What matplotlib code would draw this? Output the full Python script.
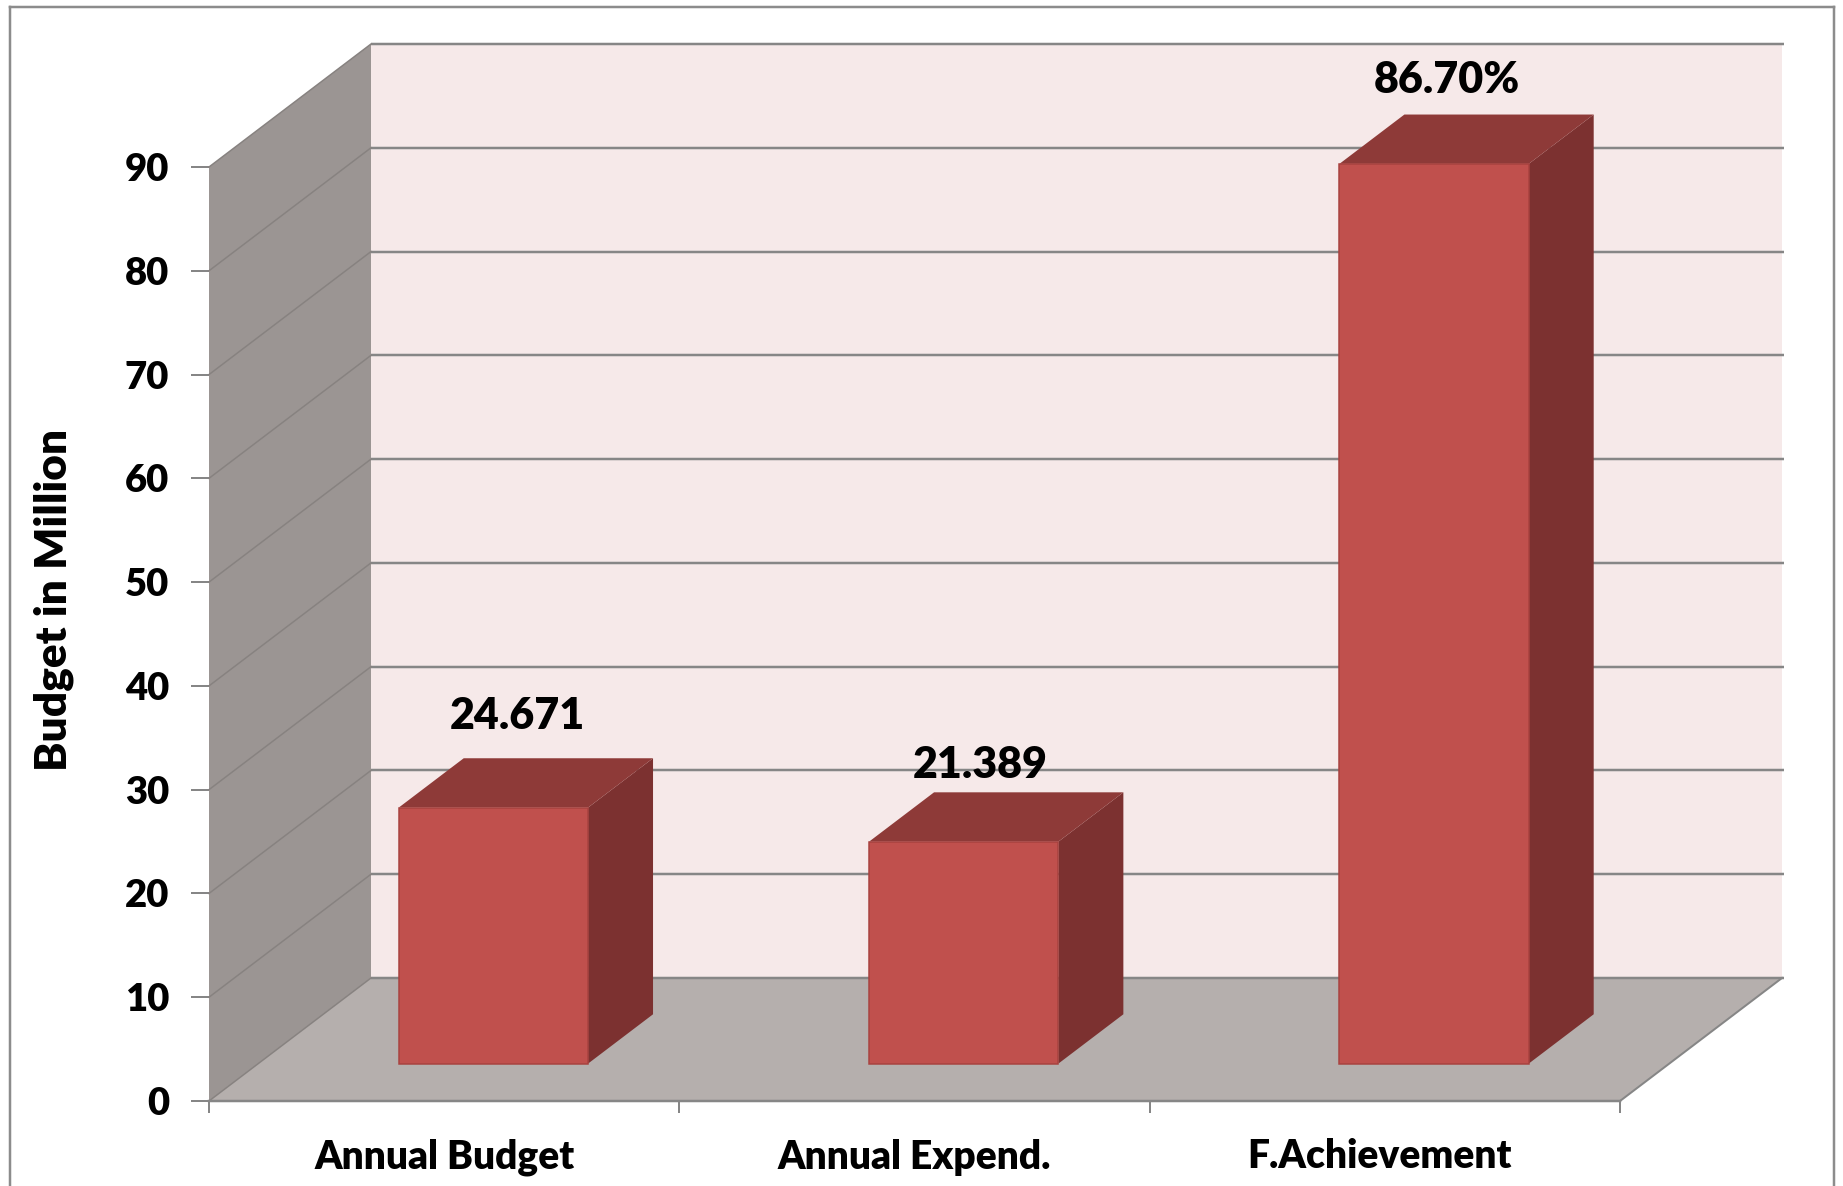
import matplotlib
matplotlib.use("Agg")
import matplotlib.pyplot as plt
from matplotlib.lines import Line2D
from matplotlib.patches import Polygon
from matplotlib.transforms import ScaledTranslation

categories = ["Annual Budget", "Annual Expend.", "F.Achievement"]
values = [24.671, 21.389, 86.7]
value_labels = ["24.671", "21.389", "86.70%"]
y_ticks = [0, 10, 20, 30, 40, 50, 60, 70, 80, 90]
y_title = "Budget in Million"

W, H = 1843, 1186
DPI = 100
PX = 72 / DPI
X0, X1, Y0, Y1 = 209.0, 1620.0, 1101.0, 167.0   # front plane in pixels
DEPTH_X = 162.0 / (X1 - X0) * 3        # depth shift in category units
DEPTH_Y = 123.0 / (Y0 - Y1) * 90       # depth shift in value units
BAR_W = 0.4025
BAR_D0, BAR_D1 = 0.304, 0.705
LABEL_OFFSETS = [(-41, 42), (-49, 27), (-52, 35)]  # px from bar's back top edge centre
CAT_SHIFT = [0, 0, -5]

C_LINE = "#868686"
C_WALL = "#F6E9E9"
C_SIDE = "#9B9593"
C_FLOOR = "#B5AFAD"
C_FRONT = "#C0504D"
C_RIGHT = "#7C3130"
C_TOP = "#8E3A38"

plt.rcParams["font.family"] = ["Lato", "DejaVu Sans"]
plt.rcParams["font.weight"] = "heavy"

fig = plt.figure(figsize=(W / DPI, H / DPI), dpi=DPI, facecolor="white")
ax = fig.add_axes([X0 / W, (H - Y0) / H, (X1 - X0) / W, (Y0 - Y1) / H])
ax.set_xlim(0, 3)
ax.set_ylim(0, 90)
ax.patch.set_visible(False)
for s in ("left", "top", "right"):
    ax.spines[s].set_visible(False)
ax.spines["bottom"].set_color(C_LINE)
ax.spines["bottom"].set_linewidth(2.5 * PX)
ax.spines["bottom"].set_zorder(6)


def P(x, y, d):
    """Oblique projection of (category position, value, depth 0..1)."""
    return (x + d * DEPTH_X, y + d * DEPTH_Y)


def poly(points, color, z, edge="none", lw=0):
    ax.add_patch(Polygon(points, closed=True, facecolor=color, edgecolor=edge,
                         linewidth=lw, zorder=z, clip_on=False))


top = y_ticks[-1]
# walls and floor
poly([P(0, 0, 1), P(3, 0, 1), P(3, top, 1), P(0, top, 1)], C_WALL, 1)
poly([P(0, 0, 0), P(0, 0, 1), P(0, top, 1), P(0, top, 0)], C_SIDE, 1)
poly([P(0, 0, 0), P(3, 0, 0), P(3, 0, 1), P(0, 0, 1)], C_FLOOR, 1)

# gridlines
for v in y_ticks:
    xs, ys = zip(P(0, v, 1), P(3.005, v, 1))
    ax.plot(xs, ys, color=C_LINE, lw=2.5 * PX, zorder=2, clip_on=False,
            solid_capstyle="butt")
    xs, ys = zip(P(0, v, 0), P(0, v, 1))
    ax.plot(xs, ys, color="#878280", lw=1.5 * PX, zorder=2, clip_on=False)
xs, ys = zip(P(3, 0, 0), P(3, 0, 1))
ax.plot(xs, ys, color=C_LINE, lw=2 * PX, zorder=2, clip_on=False)

# bars
for i, v in enumerate(values):
    c = i + 0.5
    l, r = c - BAR_W / 2, c + BAR_W / 2
    poly([P(r, 0, BAR_D0), P(r, 0, BAR_D1), P(r, v, BAR_D1), P(r, v, BAR_D0)], C_RIGHT, 3)
    poly([P(l, v, BAR_D0), P(r, v, BAR_D0), P(r, v, BAR_D1), P(l, v, BAR_D1)], C_TOP, 3)
    poly([P(l, 0, BAR_D0), P(r, 0, BAR_D0), P(r, v, BAR_D0), P(l, v, BAR_D0)], C_FRONT, 4,
         edge="#A8423F", lw=1.5 * PX)
    ox, oy = LABEL_OFFSETS[i]
    ax.annotate(value_labels[i], xy=P(c, v, BAR_D1), xytext=(ox * PX, oy * PX),
                textcoords="offset points", ha="center", va="center",
                fontsize=31, fontweight="heavy", color="black", zorder=7,
                annotation_clip=False)

# ticks and labels
ax.set_yticks(y_ticks)
ax.set_yticklabels([str(t) for t in y_ticks])
ax.tick_params(axis="y", length=18 * PX, width=2 * PX, color=C_LINE, pad=22 * PX,
               labelsize=27.5, labelcolor="black")
ax.set_xticks([0, 1, 2, 3])
ax.set_xticklabels([])
ax.tick_params(axis="x", which="major", length=12 * PX, width=2 * PX, color=C_LINE)
ax.set_xticks([0.5, 1.5, 2.5], minor=True)
ax.set_xticklabels(categories, minor=True)
ax.tick_params(axis="x", which="minor", length=0, pad=37.5 * PX, labelsize=28, labelcolor="black")
for lab, sh in zip(ax.get_xticklabels(minor=True), CAT_SHIFT):
    lab.set_transform(lab.get_transform() + ScaledTranslation(sh / DPI, 0, fig.dpi_scale_trans))

ax.set_ylabel(y_title, fontsize=31.8, fontweight="heavy", color="black")
ax.yaxis.set_label_coords((74 - X0) / (X1 - X0), (Y0 - 600) / (Y0 - Y1))

# outer chart border (bottom edge lies outside the picture)
for xa, ya, xb, yb in [(10, H + 5, 10, 7), (10, 7, 1834, 7), (1834, 7, 1834, H + 5)]:
    fig.add_artist(Line2D([xa / W, xb / W], [1 - ya / H, 1 - yb / H], color="#8C8C8C",
                          lw=2.5 * PX, transform=fig.transFigure))

fig.savefig("out.png", dpi=DPI, facecolor="white")
